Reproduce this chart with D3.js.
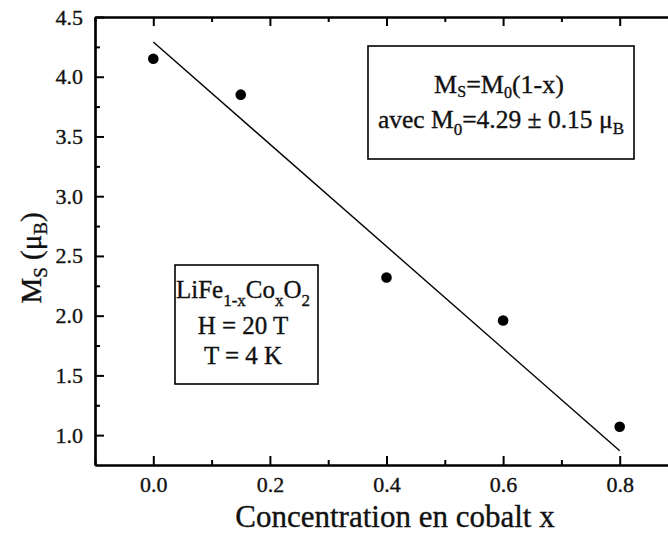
<!DOCTYPE html>
<html><head><meta charset="utf-8">
<script src="https://cdn.jsdelivr.net/npm/d3@7"></script>
<style>
body{margin:0;background:#fff;}
svg{display:block;font-family:"Liberation Serif","Times New Roman",serif;}
</style></head>
<body>
<svg id="c" width="668" height="540"></svg>
<script>
// data
const concentrations = [0.0, 0.15, 0.4, 0.6, 0.8];
const msValues = [4.15, 3.85, 2.32, 1.96, 1.07];
const fitX = [0.0, 0.8];
const fitY = [4.29, 0.87];
const xMajorTicks = [0.0, 0.2, 0.4, 0.6, 0.8];
const xMinorTicks = [-0.1, 0.1, 0.3, 0.5, 0.7, 0.9];
const yMajorTicks = [1.0, 1.5, 2.0, 2.5, 3.0, 3.5, 4.0, 4.5];
const yMinorTicks = [1.25, 1.75, 2.25, 2.75, 3.25, 3.75, 4.25];
const xTitle = "Concentration en cobalt x";

const svg = d3.select("#c");
const L = 95, R = 678, T = 17, B = 465;
const x = d3.scaleLinear().domain([-0.1, 0.9]).range([L, R]);
const y = d3.scaleLinear().domain([0.75, 4.5]).range([B, T]);
const fmt = d3.format(".1f");
const INK = "#111";
const heavy = sel => sel.attr("stroke", INK).attr("stroke-width", 0.35);

function styleAxis(g){
  g.selectAll(".domain").attr("stroke","#000").attr("stroke-width",2.2);
  g.selectAll(".tick line").attr("stroke","#000").attr("stroke-width",2);
  g.selectAll(".tick text").attr("fill",INK).attr("font-size",22)
    .attr("font-family","'Liberation Serif','Times New Roman',serif").call(heavy);
}
// bottom
svg.append("g").attr("transform",`translate(0,${B})`)
  .call(d3.axisBottom(x).tickValues(xMajorTicks).tickFormat(fmt).tickSizeInner(-9).tickSizeOuter(0).tickPadding(11))
  .call(styleAxis);
svg.append("g").attr("transform",`translate(0,${B})`)
  .call(d3.axisBottom(x).tickValues(xMinorTicks).tickFormat("").tickSizeInner(-5).tickSizeOuter(0))
  .call(styleAxis);
// top
svg.append("g").attr("transform",`translate(0,${T})`)
  .call(d3.axisTop(x).tickValues(xMajorTicks).tickFormat("").tickSizeInner(-9).tickSizeOuter(0))
  .call(styleAxis);
svg.append("g").attr("transform",`translate(0,${T})`)
  .call(d3.axisTop(x).tickValues(xMinorTicks).tickFormat("").tickSizeInner(-5).tickSizeOuter(0))
  .call(styleAxis);
// left
svg.append("g").attr("transform",`translate(${L},0)`)
  .call(d3.axisLeft(y).tickValues(yMajorTicks).tickFormat(fmt).tickSizeInner(-9).tickSizeOuter(0).tickPadding(12))
  .call(styleAxis);
svg.append("g").attr("transform",`translate(${L},0)`)
  .call(d3.axisLeft(y).tickValues(yMinorTicks).tickFormat("").tickSizeInner(-5).tickSizeOuter(0))
  .call(styleAxis);
// right
svg.append("g").attr("transform",`translate(${R},0)`)
  .call(d3.axisRight(y).tickValues(yMajorTicks).tickFormat("").tickSizeInner(-10).tickSizeOuter(0))
  .call(styleAxis);
svg.append("g").attr("transform",`translate(${R},0)`)
  .call(d3.axisRight(y).tickValues(yMinorTicks).tickFormat("").tickSizeInner(-5).tickSizeOuter(0))
  .call(styleAxis);

// fit line
svg.append("path")
  .datum(fitX.map((v,i)=>[v,fitY[i]]))
  .attr("d", d3.line().x(d=>x(d[0])).y(d=>y(d[1])))
  .attr("fill","none").attr("stroke","#000").attr("stroke-width",1.4);

// points
svg.append("g").selectAll("circle")
  .data(concentrations.map((v,i)=>({x:v,y:msValues[i]})))
  .join("circle")
  .attr("cx",d=>x(d.x)).attr("cy",d=>y(d.y)).attr("r",5.3).attr("fill","#000");

// axis titles
svg.append("text").attr("x",395).attr("y",527).attr("text-anchor","middle")
  .attr("font-size",31).attr("fill",INK).call(heavy).text(xTitle);

const yt = svg.append("text").attr("transform","translate(41,258) rotate(-90)")
  .attr("text-anchor","middle").attr("font-size",29).attr("fill",INK).call(heavy);
yt.append("tspan").text("M");
yt.append("tspan").attr("font-size",19).attr("dy",6).text("S");
yt.append("tspan").attr("dy",-6).text(" (μ");
yt.append("tspan").attr("font-size",19).attr("dy",6).text("B");
yt.append("tspan").attr("dy",-6).text(")");

// box 1
svg.append("rect").attr("x",368).attr("y",46).attr("width",266).attr("height",113)
  .attr("fill","none").attr("stroke","#000").attr("stroke-width",1.6);
const t1 = svg.append("text").attr("x",499).attr("y",93).attr("text-anchor","middle")
  .attr("font-size",26).attr("fill",INK).call(heavy);
t1.append("tspan").text("M");
t1.append("tspan").attr("font-size",16).attr("dy",4).text("S");
t1.append("tspan").attr("dy",-4).text("=M");
t1.append("tspan").attr("font-size",16).attr("dy",5).text("0");
t1.append("tspan").attr("dy",-5).text("(1-x)");
const t2 = svg.append("text").attr("x",501).attr("y",128).attr("text-anchor","middle")
  .attr("font-size",25.5).attr("fill",INK).call(heavy);
t2.append("tspan").text("avec M");
t2.append("tspan").attr("font-size",17).attr("dy",7).text("0");
t2.append("tspan").attr("dy",-7).text("=4.29 ± 0.15 μ");
t2.append("tspan").attr("font-size",17).attr("dy",6).text("B");

// box 2
svg.append("rect").attr("x",175).attr("y",265).attr("width",143).attr("height",119)
  .attr("fill","none").attr("stroke","#000").attr("stroke-width",1.6);
const t3 = svg.append("text").attr("x",243).attr("y",298).attr("text-anchor","middle")
  .attr("font-size",25).attr("fill",INK).call(heavy);
t3.append("tspan").text("LiFe");
t3.append("tspan").attr("font-size",17).attr("dy",8).text("1-x");
t3.append("tspan").attr("dy",-8).text("Co");
t3.append("tspan").attr("font-size",17).attr("dy",8).text("x");
t3.append("tspan").attr("dy",-8).text("O");
t3.append("tspan").attr("font-size",17).attr("dy",8).text("2");
svg.append("text").attr("x",243).attr("y",334).attr("text-anchor","middle")
  .attr("font-size",25).attr("fill",INK).call(heavy).text("H = 20 T");
svg.append("text").attr("x",243).attr("y",364).attr("text-anchor","middle")
  .attr("font-size",25).attr("fill",INK).call(heavy).text("T = 4 K");
</script>
</body></html>
